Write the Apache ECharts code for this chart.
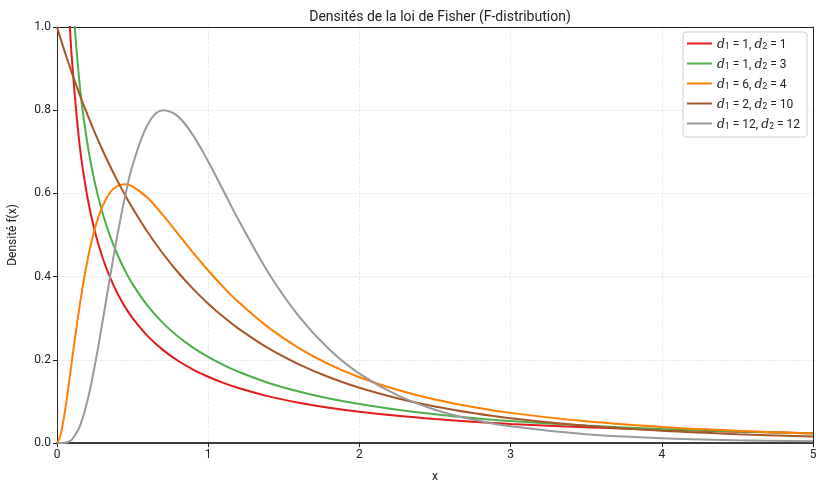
<!DOCTYPE html>
<html>
<head>
<meta charset="utf-8">
<script src="https://cdn.jsdelivr.net/npm/echarts@6/dist/echarts.min.js"></script>
<style>html,body{margin:0;padding:0;background:#fff}#c{width:816px;height:481px}</style>
</head>
<body>
<div id="c"></div>
<script>
// x positions (shared by all curves)
const xs = [0, 0.02, 0.05, 0.08, 0.1, 0.15, 0.2, 0.25, 0.3, 0.35, 0.4, 0.45, 0.5, 0.6, 0.7, 0.8, 0.9, 1.0, 1.1, 1.2, 1.4, 1.6, 1.8, 2.0, 2.25, 2.5, 2.75, 3.0, 3.5, 4.0, 4.5, 5.0];
const d1s = [1, 1, 6, 2, 12];
const d2s = [1, 3, 4, 10, 12];
const yTicks = [0, 0.2, 0.4, 0.6, 0.8, 1.0];
const xTicks = [0, 1, 2, 3, 4, 5];
const f_1_1 = [null, 2.207, 1.356, 1.042, 0.915, 0.7147, 0.5931, 0.5093, 0.4471, 0.3985, 0.3595, 0.3272, 0.3001, 0.2568, 0.2238, 0.1977, 0.1766, 0.1592, 0.1445, 0.1321, 0.1121, 0.0968, 0.0847, 0.0750, 0.0653, 0.0575, 0.0512, 0.0459, 0.0378, 0.0318, 0.0273, 0.0237];
const f_1_3 = [null, 2.565, 1.5905, 1.2330, 1.0886, 0.8609, 0.7224, 0.6264, 0.5547, 0.4983, 0.4525, 0.4144, 0.3819, 0.3296, 0.2888, 0.2562, 0.2293, 0.2068, 0.1877, 0.1712, 0.1444, 0.1236, 0.1070, 0.0936, 0.0800, 0.0692, 0.0603, 0.0531, 0.0419, 0.0338, 0.0277, 0.0231];
const f_6_4 = [0, 0.01397, 0.07053, 0.14708, 0.20136, 0.33034, 0.43631, 0.51502, 0.56866, 0.60151, 0.61798, 0.62203, 0.61689, 0.58884, 0.54813, 0.50294, 0.45772, 0.41472, 0.37498, 0.33887, 0.27727, 0.22819, 0.18923, 0.15820, 0.12792, 0.10468, 0.08663, 0.07242, 0.05202, 0.03856, 0.02933, 0.02282];
const f_2_10 = [1, 0.97633, 0.94205, 0.90916, 0.88797, 0.83748, 0.79031, 0.74622, 0.70496, 0.66634, 0.63017, 0.59627, 0.56447, 0.50663, 0.45558, 0.41044, 0.37043, 0.33490, 0.30328, 0.27509, 0.22737, 0.18904, 0.15804, 0.13281, 0.10760, 0.08779, 0.07211, 0.05960, 0.04143, 0.02940, 0.02126, 0.01563];
const f_12_12 = [0, 0.000007, 0.000482, 0.003607, 0.008832, 0.039344, 0.099488, 0.18603, 0.28912, 0.39731, 0.50068, 0.59217, 0.66765, 0.76579, 0.79964, 0.78519, 0.73954, 0.67676, 0.60692, 0.53657, 0.40822, 0.30459, 0.22556, 0.16691, 0.11511, 0.08011, 0.05637, 0.04015, 0.02111, 0.011627, 0.006676, 0.003980];
const allY = [f_1_1, f_1_3, f_6_4, f_2_10, f_12_12];
const colors = ['#e41a1c', '#4daf4a', '#ff7f00', '#a65628', '#999999'];

const FONT = 'Roboto, "DejaVu Sans", sans-serif';
const names = d1s.map((a, i) => 'd1=' + a + ',d2=' + d2s[i]);

const series = allY.map((ys, i) => ({
  name: names[i],
  type: 'line',
  data: xs.map((x, j) => [x, ys[j]]).filter(p => p[1] !== null),
  showSymbol: false,
  smooth: 0.35,
  clip: true,
  lineStyle: { color: colors[i], width: 2 },
  itemStyle: { color: colors[i] },
  emphasis: { disabled: true },
  z: 3
}));

const hiddenAxis = {
  axisLabel: { show: false }, axisTick: { show: false }, splitLine: { show: false }
};

const chart = echarts.init(document.getElementById('c'), null, { renderer: 'canvas' });
chart.setOption({
  animation: false,
  backgroundColor: '#fff',
  title: {
    text: 'Densités de la loi de Fisher (F-distribution)',
    left: 435, top: 5, textAlign: 'center',
    textStyle: { fontFamily: FONT, fontSize: 14, fontWeight: 'normal', color: '#222' }
  },
  grid: { left: 57, right: 3, top: 27, bottom: 38, outerBoundsMode: 'none', containLabel: false },
  legend: {
    orient: 'vertical', right: 9, top: 32,
    backgroundColor: '#fff', borderColor: '#d0d0d0', borderWidth: 1, borderRadius: 3,
    padding: [6, 7, 6, 4], itemGap: 7, itemWidth: 25, itemHeight: 2, icon: 'rect',
    data: names,
    formatter: function (n) {
      const i = names.indexOf(n);
      return '{i|d}{s|1}{n| = ' + d1s[i] + ', }{i|d}{s|2}{n| = ' + d2s[i] + '}';
    },
    textStyle: {
      fontFamily: FONT, fontSize: 12, color: '#222',
      rich: {
        i: { fontFamily: '"DejaVu Serif", serif', fontStyle: 'italic', fontSize: 12.5, color: '#222', verticalAlign: 'bottom', lineHeight: 15 },
        s: { fontFamily: FONT, fontSize: 8.5, color: '#222', verticalAlign: 'bottom', lineHeight: 10 },
        n: { fontFamily: FONT, fontSize: 12, color: '#222', verticalAlign: 'bottom', lineHeight: 15 }
      }
    }
  },
  xAxis: [{
    type: 'value', min: 0, max: 5, interval: 1,
    name: 'x', nameLocation: 'middle', nameGap: 28,
    nameTextStyle: { fontFamily: FONT, fontSize: 12, color: '#222' },
    axisLine: { show: true, onZero: false, lineStyle: { color: '#000', width: 1.6 } },
    axisTick: { show: true, length: 4, lineStyle: { color: '#222' } },
    axisLabel: { fontFamily: FONT, fontSize: 12, color: '#222', margin: 6, formatter: v => xTicks.includes(v) ? String(v) : '' },
    splitLine: { show: true, lineStyle: { color: '#e3e3e3', type: 'dashed', width: 0.8 } }
  }, Object.assign({
    type: 'value', min: 0, max: 5, position: 'top',
    axisLine: { show: true, onZero: false, lineStyle: { color: '#222', width: 1 } }
  }, hiddenAxis)],
  yAxis: [{
    type: 'value', min: 0, max: 1, interval: 0.2,
    name: 'Densité f(x)', nameLocation: 'middle', nameGap: 38, nameRotate: 90,
    nameTextStyle: { fontFamily: FONT, fontSize: 12, color: '#222' },
    axisLine: { show: true, onZero: false, lineStyle: { color: '#222', width: 1 } },
    axisTick: { show: true, length: 4, lineStyle: { color: '#222' } },
    axisLabel: { fontFamily: FONT, fontSize: 12, color: '#222', margin: 6, formatter: v => v.toFixed(1) },
    splitLine: { show: true, lineStyle: { color: '#e3e3e3', type: 'dashed', width: 0.8 } }
  }, Object.assign({
    type: 'value', min: 0, max: 1, position: 'right',
    axisLine: { show: true, onZero: false, lineStyle: { color: '#222', width: 1 } }
  }, hiddenAxis)],
  series: series
});
</script>
</body>
</html>
